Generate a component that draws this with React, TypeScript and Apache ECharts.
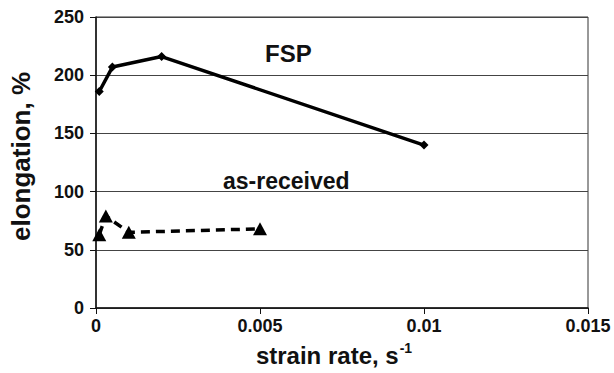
import React, { useEffect, useRef } from "react";
import * as echarts from "echarts";

const fspRates = [0.0001, 0.0005, 0.002, 0.01];
const fspElong = [186, 207, 216, 140];
const asRecRates = [0.0001, 0.0003, 0.001, 0.005];
const asRecElong = [63, 79, 65, 68];
const xTicks = { min: 0, max: 0.015, interval: 0.005 };
const yTicks = { min: 0, max: 250, interval: 50 };
const labels = { fsp: "FSP", asRec: "as-received" };

const FONT = "'Liberation Sans', Arial, sans-serif";

export default function App() {
  const ref = useRef<HTMLDivElement>(null);
  useEffect(() => {
    if (!ref.current) return;
    const chart = echarts.init(ref.current, null, { renderer: "svg" });
    chart.setOption({
      animation: false,
      backgroundColor: "#fff",
      textStyle: { fontFamily: FONT },
      grid: {
        left: 94,
        right: 26,
        top: 17,
        bottom: 65,
        show: true,
        borderColor: "#333",
        borderWidth: 1,
      },
      xAxis: {
        type: "value",
        min: xTicks.min,
        max: xTicks.max,
        interval: xTicks.interval,
        name: "{a|strain rate, s}{b|-1}",
        nameLocation: "middle",
        nameGap: 33,
        nameTextStyle: {
          padding: [0, 16, 0, 0],
          rich: {
            a: { fontFamily: FONT, fontWeight: "bold", fontSize: 24, color: "#111", verticalAlign: "bottom" },
            b: { fontFamily: FONT, fontWeight: "bold", fontSize: 14, color: "#111", verticalAlign: "top", padding: [0, 0, 12, 1] },
          },
        },
        axisLine: { show: true, lineStyle: { color: "#111", width: 1.5 } },
        axisTick: { show: true, length: 6, lineStyle: { color: "#111" } },
        axisLabel: {
          fontFamily: FONT,
          fontWeight: "bold",
          fontSize: 18,
          color: "#111",
          margin: 9,
        },
        splitLine: { show: false },
      },
      yAxis: {
        type: "value",
        min: yTicks.min,
        max: yTicks.max,
        interval: yTicks.interval,
        name: "elongation, %",
        nameLocation: "middle",
        nameGap: 62,
        nameTextStyle: {
          fontFamily: FONT,
          fontWeight: "bold",
          fontSize: 26,
          color: "#111",
          padding: [0, 0, 0, 12],
        },
        axisLine: { show: true, lineStyle: { color: "#111", width: 1.5 } },
        axisTick: { show: true, length: 6, lineStyle: { color: "#111" } },
        axisLabel: {
          fontFamily: FONT,
          fontWeight: "bold",
          fontSize: 18,
          color: "#111",
          margin: 12,
        },
        splitLine: { show: true, lineStyle: { color: "#444", width: 1 } },
      },
      series: [
        {
          name: labels.fsp,
          type: "line",
          data: fspRates.map((x, i) => [x, fspElong[i]]),
          symbol: "diamond",
          symbolSize: 9,
          lineStyle: { color: "#000", width: 3.5 },
          itemStyle: { color: "#000" },
        },
        {
          name: labels.asRec,
          type: "line",
          data: asRecRates.map((x, i) => [x, asRecElong[i]]),
          symbol: "triangle",
          symbolSize: [14, 13],
          lineStyle: { color: "#000", width: 3.5, type: [9, 6] },
          itemStyle: { color: "#000" },
        },
      ],
      graphic: [
        {
          type: "text",
          left: 265,
          top: 41,
          style: { text: labels.fsp, fontFamily: FONT, fontWeight: "bold", fontSize: 24, fill: "#111" },
        },
        {
          type: "text",
          left: 223,
          top: 169,
          style: { text: labels.asRec, fontFamily: FONT, fontWeight: "bold", fontSize: 23, fill: "#111" },
        },
      ],
    });
    return () => chart.dispose();
  }, []);
  return <div ref={ref} style={{ width: 614, height: 373, position: "absolute", left: 0, top: 0 }} />;
}
